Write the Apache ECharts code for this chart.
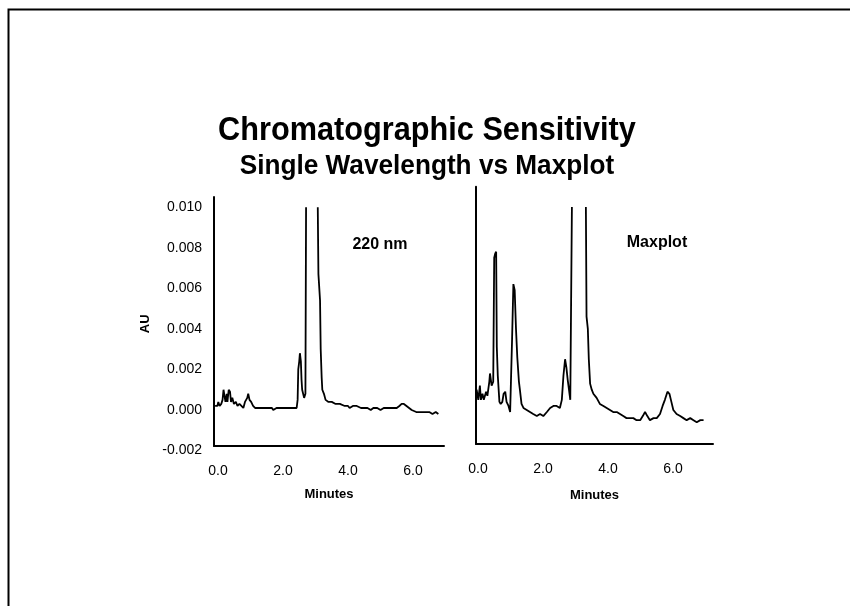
<!DOCTYPE html>
<html>
<head>
<meta charset="utf-8">
<script src="https://cdn.jsdelivr.net/npm/echarts@6/dist/echarts.min.js"></script>
<style>
html,body{margin:0;padding:0;background:#fff;}
#c{width:850px;height:606px;}
</style>
</head>
<body>
<div id="c"></div>
<script>
// ---- Data ----
const xTickValues = [0, 2, 4, 6];
const yTickValues = [-0.002, 0, 0.002, 0.004, 0.006, 0.008, 0.010];

// 220 nm trace (minutes, AU); null = off-scale (clipped) part of the main peak
const time220 = [-0.09,-0.02,0.01,0.05,0.10,0.14,0.17,0.21,0.23,0.27,0.29,0.33,0.37,0.40,0.44,0.49,0.55,0.60,0.66,0.72,0.78,0.83,0.90,0.93,0.97,1.02,1.08,1.14,1.30,1.50,1.66,1.70,1.76,1.80,2.00,2.42,2.45,2.47,2.50,2.52,2.55,2.57,2.59,2.65,2.69,2.71,2.72,3.06,3.07,3.09,3.14,3.16,3.19,3.21,3.26,3.31,3.40,3.50,3.62,3.75,3.90,4.00,4.05,4.15,4.27,4.40,4.50,4.60,4.70,4.78,4.90,5.00,5.10,5.30,5.50,5.58,5.65,5.72,5.80,5.88,5.96,6.10,6.32,6.50,6.60,6.70,6.78];
const au220 = [0.0002,0.0002,0.0004,0.0002,0.0003,0.0005,0.0010,0.0010,0.0004,0.0008,0.0004,0.0010,0.0009,0.0004,0.0006,0.0003,0.0004,0.0002,0.0003,0.0002,0.0001,0.0004,0.0006,0.0008,0.0005,0.0004,0.0002,0.0001,0.0001,0.0001,0.0001,0.0000,0.0000,0.0001,0.0001,0.0001,0.0005,0.0020,0.0024,0.0028,0.0024,0.0015,0.0010,0.0006,0.0008,0.0100,null,null,0.0100,0.0067,0.0054,0.0030,0.0016,0.0010,0.0008,0.0005,0.0004,0.0004,0.0003,0.0003,0.0002,0.0002,0.0001,0.0002,0.0002,0.0001,0.0001,0.0001,0.0000,0.0001,0.0001,0.0000,0.0001,0.0001,0.0001,0.0002,0.0003,0.0003,0.0002,0.0001,0.0000,-0.0001,-0.0001,-0.0001,-0.0002,-0.0001,-0.0002];

// Maxplot trace (minutes, AU)
const timeMax = [-0.04,0.01,0.06,0.09,0.14,0.18,0.25,0.29,0.35,0.37,0.42,0.47,0.50,0.53,0.56,0.58,0.61,0.66,0.70,0.75,0.79,0.84,0.88,0.94,0.99,1.03,1.05,1.09,1.13,1.17,1.21,1.26,1.29,1.34,1.40,1.50,1.60,1.70,1.81,1.91,2.01,2.12,2.22,2.32,2.42,2.52,2.58,2.63,2.68,2.72,2.76,2.80,2.84,2.86,2.89,2.90,3.31,3.32,3.34,3.38,3.41,3.45,3.50,3.55,3.65,3.75,3.86,3.96,4.06,4.16,4.27,4.37,4.47,4.57,4.68,4.78,4.88,4.99,5.07,5.14,5.21,5.29,5.40,5.50,5.60,5.68,5.75,5.83,5.89,5.95,6.01,6.11,6.22,6.32,6.42,6.53,6.63,6.73,6.84,6.94];
const auMax = [0.0010,0.0005,0.0012,0.0005,0.0008,0.0005,0.0009,0.0007,0.0014,0.0018,0.0012,0.0014,0.0075,0.0077,0.0078,0.0031,0.0017,0.0004,0.0003,0.0004,0.0008,0.0009,0.0004,0.0002,-0.0001,-0.0001,0.0035,0.0062,0.0059,0.0040,0.0026,0.0014,0.0010,0.0003,0.0001,0.0000,-0.0001,-0.0002,-0.0003,-0.0002,-0.0003,-0.0001,0.0001,0.0002,0.0002,0.0001,0.0005,0.0017,0.0025,0.0021,0.0015,0.0010,0.0005,0.0005,0.0100,null,null,0.0100,0.0046,0.0040,0.0025,0.0013,0.0010,0.0008,0.0006,0.0003,0.0002,0.0001,0.0000,-0.0001,-0.0001,-0.0002,-0.0003,-0.0004,-0.0004,-0.0004,-0.0005,-0.0005,-0.0003,-0.0001,-0.0003,-0.0005,-0.0004,-0.0004,-0.0002,0.0002,0.0005,0.0009,0.0008,0.0004,0.0000,-0.0002,-0.0003,-0.0004,-0.0005,-0.0004,-0.0005,-0.0006,-0.0005,-0.0005];

const labels = { title: 'Chromatographic Sensitivity', subtitle: 'Single Wavelength vs Maxplot', left: '220 nm', right: 'Maxplot', xName: 'Minutes', yName: 'AU' };

// ---- Chart ----
const FONT = 'Arial, "Liberation Sans", sans-serif';
const chart = echarts.init(document.getElementById('c'), null, { renderer: 'canvas' });
const toPairs = (t, v) => t.map((x, i) => [x, v[i]]);
const lineStyle = { color: '#000', width: 1.8 };
const axisLineStyle = { show: true, onZero: false, lineStyle: { color: '#000', width: 2 } };
const noAxis = { show: false };

chart.setOption({
  backgroundColor: '#fff',
  animation: false,
  grid: [
    { left: 214, top: 197, width: 230, height: 253.6 },   // 220 nm data grid
    { left: 476, top: 186.7, width: 237, height: 257.3 }, // Maxplot grid
    { left: 214, top: 197, width: 230, height: 249 }      // 220 nm axis frame
  ],
  xAxis: [
    { gridIndex: 0, type: 'value', min: -0.123, max: 6.954,
      axisLine: { show: false }, axisTick: noAxis, splitLine: noAxis,
      axisLabel: { customValues: xTickValues, formatter: v => v.toFixed(1), color: '#000', fontFamily: FONT, fontSize: 14, margin: 14 },
      name: labels.xName, nameLocation: 'middle', nameGap: 37,
      nameTextStyle: { color: '#000', fontFamily: FONT, fontSize: 13, fontWeight: 'bold' } },
    { gridIndex: 1, type: 'value', min: -0.06, max: 7.23,
      axisLine: axisLineStyle, axisTick: noAxis, splitLine: noAxis,
      axisLabel: { customValues: xTickValues, formatter: v => v.toFixed(1), color: '#000', fontFamily: FONT, fontSize: 14, margin: 18 },
      name: labels.xName, nameLocation: 'middle', nameGap: 45,
      nameTextStyle: { color: '#000', fontFamily: FONT, fontSize: 13, fontWeight: 'bold' } },
    { gridIndex: 2, type: 'value', min: 0, max: 1,
      axisLine: axisLineStyle, axisTick: noAxis, splitLine: noAxis, axisLabel: noAxis }
  ],
  yAxis: [
    { gridIndex: 0, type: 'value', min: -0.002, max: 0.0105,
      axisLine: { show: false }, axisTick: noAxis, splitLine: noAxis,
      axisLabel: { customValues: yTickValues, formatter: v => v.toFixed(3), color: '#000', fontFamily: FONT, fontSize: 14, margin: 12 },
      name: labels.yName, nameLocation: 'middle', nameGap: 62, nameRotate: 90,
      nameTextStyle: { color: '#000', fontFamily: FONT, fontSize: 13, fontWeight: 'bold' } },
    { gridIndex: 1, type: 'value', min: -0.001675, max: 0.011,
      axisLine: axisLineStyle, axisTick: noAxis, splitLine: noAxis, axisLabel: noAxis },
    { gridIndex: 2, type: 'value', min: 0, max: 1,
      axisLine: axisLineStyle, axisTick: noAxis, splitLine: noAxis, axisLabel: noAxis }
  ],
  series: [
    { type: 'line', xAxisIndex: 0, yAxisIndex: 0, data: toPairs(time220, au220),
      showSymbol: false, symbol: 'none', lineStyle: lineStyle, connectNulls: false, silent: true },
    { type: 'line', xAxisIndex: 1, yAxisIndex: 1, data: toPairs(timeMax, auMax),
      showSymbol: false, symbol: 'none', lineStyle: lineStyle, connectNulls: false, silent: true }
  ],
  graphic: [
    { type: 'rect', left: 6, top: 7, shape: { width: 900, height: 700 },
      style: { fill: 'none', stroke: '#000', lineWidth: 2 }, silent: true },
    { type: 'text', x: 427, y: 131, scaleX: 0.93, style: { text: labels.title, font: 'bold 33px ' + FONT, fill: '#000', textAlign: 'center', textVerticalAlign: 'middle' } },
    { type: 'text', x: 427, y: 167, scaleX: 0.97, style: { text: labels.subtitle, font: 'bold 27px ' + FONT, fill: '#000', textAlign: 'center', textVerticalAlign: 'middle' } },
    { type: 'text', x: 380, y: 245, style: { text: labels.left, font: 'bold 16px ' + FONT, fill: '#000', textAlign: 'center', textVerticalAlign: 'middle' } },
    { type: 'text', x: 657, y: 243, style: { text: labels.right, font: 'bold 16px ' + FONT, fill: '#000', textAlign: 'center', textVerticalAlign: 'middle' } }
  ]
});
</script>
</body>
</html>
